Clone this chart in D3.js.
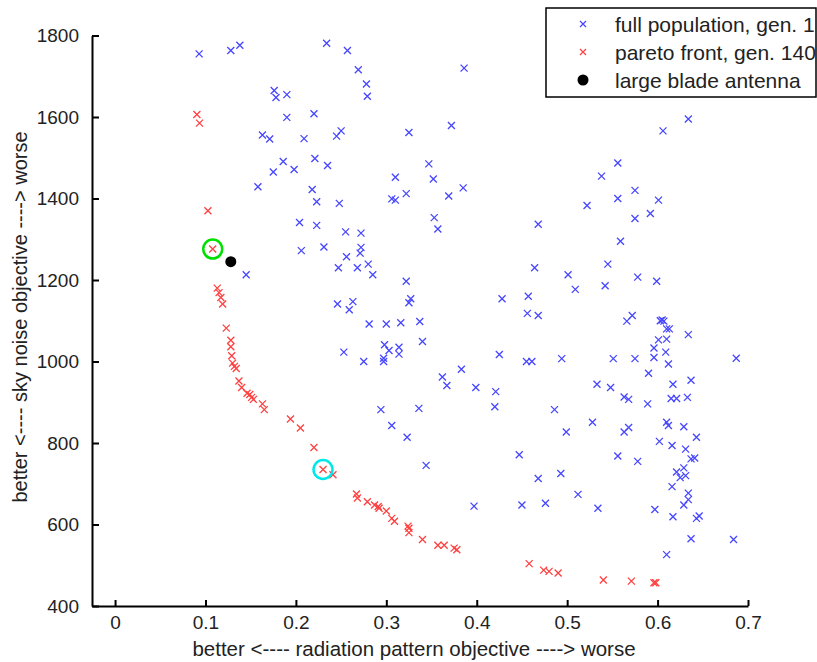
<!DOCTYPE html>
<html>
<head>
<meta charset="utf-8">
<script src="https://cdn.jsdelivr.net/npm/d3@7"></script>
<style>
  body { margin: 0; background: #fff; }
  svg { display: block; font-family: "Liberation Sans", Arial, sans-serif; }
</style>
</head>
<body>
<div id="chart"></div>
<script>
// full population, gen. 1 (radiation pattern, sky noise)
var popX = [0.093,0.128,0.138,0.234,0.257,0.269,0.386,0.278,0.279,0.176,0.178,0.190,0.190,0.220,0.634,0.372,0.325,0.606,
  0.163,0.171,0.209,0.245,0.250,0.186,0.221,0.235,0.198,0.175,0.158,0.347,0.352,0.310,0.218,0.223,0.248,0.306,0.310,0.322,
  0.369,0.385,0.353,0.357,0.538,0.556,0.556,0.575,0.601,0.522,0.592,0.575,0.468,0.559,0.204,0.223,0.255,0.272,0.206,0.231,
  0.256,0.272,0.271,0.280,0.247,0.268,0.285,0.145,0.464,0.545,0.578,0.599,0.501,0.509,0.542,0.428,0.322,0.327,0.325,0.246,
  0.263,0.259,0.457,0.456,0.468,0.572,0.566,0.605,0.607,0.610,0.613,0.601,0.610,0.634,0.596,0.609,0.596,0.612,0.575,0.551,
  0.494,0.455,0.461,0.425,0.281,0.300,0.316,0.337,0.340,0.253,0.275,0.298,0.303,0.314,0.314,0.297,0.297,0.362,0.367,0.383,
  0.399,0.421,0.420,0.336,0.294,0.306,0.323,0.344,0.397,0.450,0.447,0.468,0.476,0.493,0.512,0.486,0.499,0.528,0.534,0.533,
  0.548,0.563,0.568,0.589,0.590,0.563,0.568,0.556,0.578,0.597,0.602,0.610,0.612,0.616,0.617,0.615,0.621,0.633,0.637,0.629,
  0.643,0.631,0.637,0.641,0.621,0.629,0.625,0.631,0.616,0.634,0.634,0.629,0.643,0.646,0.617,0.637,0.610,0.684,0.687,0.603];
var popY = [1755,1763,1776,1781,1763,1716,1720,1681,1651,1665,1648,1655,1599,1608,1595,1579,1562,1566,
  1556,1546,1547,1553,1566,1491,1498,1481,1471,1465,1429,1485,1448,1452,1422,1392,1388,1399,1396,1412,
  1406,1426,1353,1325,1455,1487,1400,1420,1396,1383,1363,1351,1337,1295,1341,1334,1318,1315,1272,1281,
  1257,1280,1266,1239,1230,1230,1213,1213,1230,1239,1207,1197,1213,1177,1186,1154,1197,1154,1144,1141,
  1147,1127,1160,1118,1113,1113,1099,1102,1099,1080,1080,1053,1055,1066,1033,1023,1010,994,1007,1007,
  1007,1000,1000,1017,1092,1092,1095,1098,1049,1023,1000,1041,1027,1035,1018,1008,1000,962,941,981,
  936,926,889,885,882,843,814,745,645,648,771,713,652,725,674,882,827,851,640,944,
  936,913,907,896,971,827,838,768,755,637,804,851,843,794,944,909,909,912,954,840,
  814,785,761,763,729,739,715,720,693,677,661,648,615,621,619,565,526,563,1008,1100];

// pareto front, gen. 140
var parX = [0.0905,0.0934,0.1027,0.108,0.113,0.115,0.117,0.119,0.123,0.128,0.128,0.129,0.130,0.132,0.134,0.137,0.140,
  0.146,0.149,0.151,0.153,0.163,0.165,0.194,0.205,0.220,0.230,0.241,0.267,0.268,0.279,0.287,0.291,0.292,0.300,0.306,
  0.309,0.324,0.325,0.325,0.340,0.357,0.364,0.375,0.378,0.458,0.474,0.480,0.490,0.540,0.571,0.596,0.598];
var parY = [1606,1585,1370,1276,1180,1169,1157,1141,1082,1052,1036,1014,996,988,983,952,936,
  922,919,912,907,896,882,859,837,789,735,722,675,665,656,648,644,640,633,615,
  608,596,591,580,563,549,549,542,538,504,488,485,481,464,461,457,457];

// large blade antenna
var bladeX = [0.128], bladeY = [1245];
// highlighted designs
var circleX = [0.108, 0.230], circleY = [1276, 735], circleColor = ["#00e000", "#00e8e8"];

var xTicks = [0, 0.1, 0.2, 0.3, 0.4, 0.5, 0.6, 0.7];
var yTicks = [400, 600, 800, 1000, 1200, 1400, 1600, 1800];
var legendLabels = ["full population, gen. 1", "pareto front, gen. 140", "large blade antenna"];

var W = 817, H = 662;
var margin = {top: 35.5, right: 69, bottom: 56, left: 92},
    width = W - margin.left - margin.right,
    height = H - margin.top - margin.bottom;

var svg = d3.select("#chart").append("svg")
    .attr("width", W).attr("height", H);
var g = svg.append("g")
    .attr("transform", "translate(" + margin.left + "," + margin.top + ")");

var x = d3.scaleLinear().domain([-0.0255, 0.7]).range([0, width]);
var y = d3.scaleLinear().domain([400, 1800]).range([height, 0]);

var xAxis = g.append("g")
    .attr("transform", "translate(0," + height + ")")
    .call(d3.axisBottom(x).tickValues(xTicks).tickFormat(d3.format("")).tickSize(-6).tickSizeOuter(0).tickPadding(10));
var yAxis = g.append("g")
    .call(d3.axisLeft(y).tickValues(yTicks).tickFormat(d3.format("d")).tickSize(-7).tickSizeOuter(0).tickPadding(13));

[xAxis, yAxis].forEach(function(a) {
  a.select(".domain").attr("stroke", "#000").attr("stroke-width", 2);
  a.selectAll(".tick line").attr("stroke", "#000").attr("stroke-width", 2);
  a.selectAll(".tick text").attr("fill", "#222").style("font-size", "19px")
    .style("font-family", "'Liberation Sans', Arial, sans-serif");
});

function cross(sel, color) {
  sel.append("path")
    .attr("d", "M-3.5,-3.5L3.5,3.5M-3.5,3.5L3.5,-3.5")
    .attr("stroke", color).attr("stroke-width", 1.3).attr("fill", "none");
}

var pop = popX.map(function(d, i) { return [d, popY[i]]; });
var par = parX.map(function(d, i) { return [d, parY[i]]; });

g.append("g").selectAll("g").data(pop).enter().append("g")
  .attr("transform", function(d) { return "translate(" + x(d[0]) + "," + y(d[1]) + ")"; })
  .call(cross, "#4646ff");

g.append("g").selectAll("g").data(par).enter().append("g")
  .attr("transform", function(d) { return "translate(" + x(d[0]) + "," + y(d[1]) + ")"; })
  .call(cross, "#ff4040");

g.selectAll(".blade").data(bladeX).enter().append("circle")
  .attr("class", "blade")
  .attr("cx", function(d) { return x(d); })
  .attr("cy", function(d, i) { return y(bladeY[i]); })
  .attr("r", 5.5).attr("fill", "#000");

g.selectAll(".hl").data(circleX).enter().append("circle")
  .attr("class", "hl")
  .attr("cx", function(d) { return x(d); })
  .attr("cy", function(d, i) { return y(circleY[i]); })
  .attr("r", 9.5).attr("fill", "none")
  .attr("stroke", function(d, i) { return circleColor[i]; })
  .attr("stroke-width", 2.5);

// axis labels
svg.append("text")
  .attr("x", 414).attr("y", 656)
  .attr("text-anchor", "middle").attr("fill", "#222").style("font-size", "20.5px")
  .text("better <---- radiation pattern objective ----> worse");
svg.append("text")
  .attr("transform", "translate(27,317) rotate(-90)")
  .attr("text-anchor", "middle").attr("fill", "#222").style("font-size", "20px")
  .text("better <---- sky noise objective ----> worse");

// legend
var lg = svg.append("g").attr("transform", "translate(546,8)");
lg.append("rect").attr("width", 270).attr("height", 89)
  .attr("fill", "#fff").attr("stroke", "#000").attr("stroke-width", 1.5);
var rows = lg.selectAll(".row").data(legendLabels).enter().append("g")
  .attr("transform", function(d, i) { return "translate(0," + (16 + i * 28) + ")"; });
rows.append("text").attr("x", 69).attr("y", 7.5)
  .attr("fill", "#222").style("font-size", "21px").text(function(d) { return d; });
rows.filter(function(d, i) { return i === 0; }).append("g").attr("transform", "translate(37,0)")
  .call(function(s) { s.append("path").attr("d", "M-3,-3L3,3M-3,3L3,-3").attr("stroke", "#4646ff").attr("stroke-width", 1.2); });
rows.filter(function(d, i) { return i === 1; }).append("g").attr("transform", "translate(37,0)")
  .call(function(s) { s.append("path").attr("d", "M-3,-3L3,3M-3,3L3,-3").attr("stroke", "#ff4040").attr("stroke-width", 1.2); });
rows.filter(function(d, i) { return i === 2; }).append("circle").attr("cx", 37).attr("r", 5.5).attr("fill", "#000");
</script>
</body>
</html>
